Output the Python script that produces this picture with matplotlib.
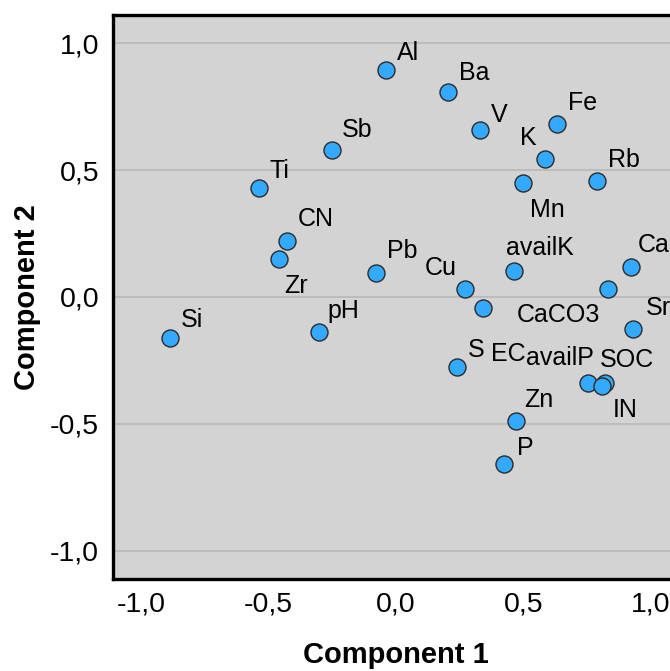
import matplotlib
matplotlib.use("Agg")
import matplotlib.pyplot as plt
from matplotlib.ticker import FuncFormatter, FixedLocator

plt.rcParams['font.family'] = ['Liberation Sans', 'DejaVu Sans']

labels = ["Al", "Ba", "V", "Fe", "K", "Sb", "Ti", "Rb", "Mn", "CN", "Zr", "Pb",
          "Cu", "availK", "Ca", "CaCO3", "Sr", "Si", "pH", "S", "EC",
          "availP", "SOC", "IN", "Zn", "P"]
comp1 = [-0.039, 0.205, 0.329, 0.633, 0.584, -0.251, -0.537, 0.787, 0.497, -0.426, -0.460, -0.077,
         0.271, 0.463, 0.921, 0.833, 0.931, -0.887, -0.303, 0.238, 0.340,
         0.754, 0.820, 0.807, 0.469, 0.422]
comp2 = [0.894, 0.807, 0.660, 0.681, 0.543, 0.579, 0.428, 0.458, 0.448, 0.220, 0.150, 0.094,
         0.030, 0.104, 0.118, 0.030, -0.125, -0.163, -0.137, -0.275, -0.045,
         -0.340, -0.340, -0.350, -0.487, -0.660]
ticks = [-1.0, -0.5, 0.0, 0.5, 1.0]

# label placement (offset in pixels from the point, horizontal alignment)
offsets = {
    "Al": (11, 10, 'left'), "Ba": (11, 12, 'left'), "V": (11, 8, 'left'),
    "Fe": (11, 14, 'left'), "K": (-8, 14, 'right'), "Sb": (10, 13, 'left'),
    "Ti": (10, 10, 'left'), "Rb": (11, 14, 'left'), "Mn": (7, -34, 'left'),
    "CN": (10, 15, 'left'), "Zr": (6, -34, 'left'), "Pb": (11, 15, 'left'),
    "Cu": (-8, 14, 'right'), "availK": (-8, 16, 'left'), "Ca": (7, 15, 'left'),
    "CaCO3": (-8, -33, 'right'), "Sr": (12, 14, 'left'), "Si": (11, 11, 'left'),
    "pH": (9, 14, 'left'), "S": (11, 10, 'left'), "EC": (8, -53, 'left'),
    "availP": (6, 18, 'right'), "SOC": (-5, 16, 'left'), "IN": (11, -31, 'left'),
    "Zn": (9, 14, 'left'), "P": (13, 9, 'left'),
}

W, H = 670, 671
fig = plt.figure(figsize=(W / 100, H / 100), dpi=100)
ax = fig.add_axes([113 / W, (H - 579) / H, 566 / W, 564 / H])
ax.set_facecolor('#d3d3d3')
ax.set_xlim(-1.11, 1.11)
ax.set_ylim(-1.112, 1.112)

ax.yaxis.set_major_locator(FixedLocator(ticks))
ax.xaxis.set_major_locator(FixedLocator(ticks))
fmt = FuncFormatter(lambda v, p: f"{v:.1f}".replace('.', ','))
ax.xaxis.set_major_formatter(fmt)
ax.yaxis.set_major_formatter(fmt)
ax.tick_params(axis='both', length=0, labelsize=20.5, colors='black')
ax.tick_params(axis='y', pad=10)
ax.tick_params(axis='x', pad=9)
ax.grid(axis='y', color='#b8b8b8', linewidth=1.2)
ax.set_axisbelow(True)
for s in ax.spines.values():
    s.set_linewidth(2.4)
    s.set_color('black')

ax.scatter(comp1, comp2, s=150, color='#33aaff', edgecolor='#2b2b2b',
           linewidth=1.0, zorder=3)
for lab, x, y in zip(labels, comp1, comp2):
    dx, dy, ha = offsets[lab]
    ax.annotate(lab, (x, y), xytext=(dx, dy), textcoords='offset pixels',
                ha=ha, va='baseline', fontsize=18, color='black', zorder=4,
                annotation_clip=False)

fig.text(396 / W, 1 - 655 / H, "Component 1", ha='center', va='center',
         fontsize=21, fontweight='bold')
fig.text(27 / W, 1 - 297 / H, "Component 2", ha='center', va='center',
         fontsize=21, fontweight='bold', rotation=90)

fig.savefig("out.png", dpi=100)
